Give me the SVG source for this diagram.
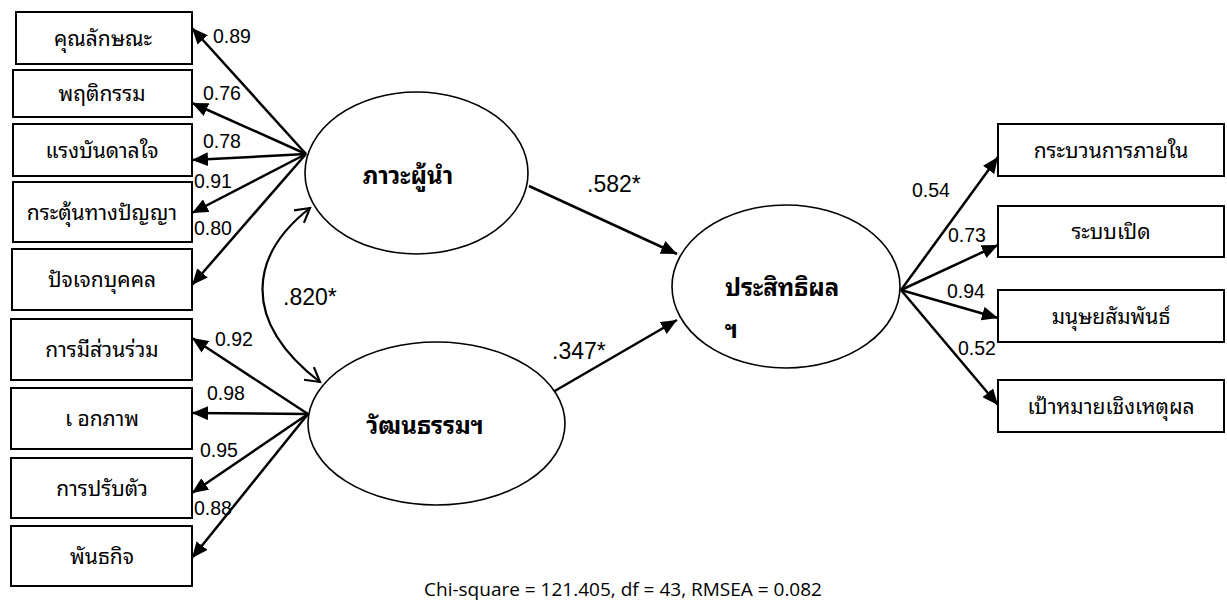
<svg xmlns="http://www.w3.org/2000/svg" width="1227" height="605" viewBox="0 0 1227 605">
<style>
.box{fill:#fff;stroke:#000;stroke-width:2}
.ell{fill:#fff;stroke:#000;stroke-width:1.6}
.bt{font-family:"Noto Sans Thai Looped","Noto Sans","Noto Sans Thai","DejaVu Sans",sans-serif;font-size:21px;text-anchor:middle;fill:#000}
.et{font-family:"Noto Sans Thai Looped","Noto Sans","Noto Sans Thai","DejaVu Sans",sans-serif;font-size:24px;font-weight:bold;fill:#000}
.num{font-family:"Liberation Sans",Arial,sans-serif;font-size:19.5px;fill:#000}
.big{font-family:"Liberation Sans",Arial,sans-serif;font-size:23px;fill:#000}
.ar{stroke:#000;stroke-width:2.5;fill:none;marker-end:url(#ah)}
.cv{stroke:#000;stroke-width:2.2;fill:none;marker-start:url(#oa);marker-end:url(#oa)}
</style>
<defs>
<marker id="ah" markerUnits="userSpaceOnUse" markerWidth="18" markerHeight="14" refX="16" refY="7" orient="auto" viewBox="0 0 18 14">
<path d="M0,0 L16,7 L0,14 z" fill="#000"/>
</marker>
<marker id="oa" markerUnits="userSpaceOnUse" markerWidth="20" markerHeight="20" refX="16" refY="10" orient="auto-start-reverse" viewBox="0 0 20 20">
<path d="M2,2 L16,10 L2,18" fill="none" stroke="#000" stroke-width="2.2"/>
</marker>
</defs>
<rect width="1227" height="605" fill="#fff"/>
<g id="connectors">
<line class="ar" x1="306" y1="154" x2="192" y2="28"/>
<line class="ar" x1="306" y1="154" x2="192" y2="103"/>
<line class="ar" x1="306" y1="154" x2="192" y2="160"/>
<line class="ar" x1="306" y1="154" x2="192" y2="213"/>
<line class="ar" x1="306" y1="154" x2="192" y2="285"/>
<line class="ar" x1="308" y1="414" x2="192" y2="338"/>
<line class="ar" x1="308" y1="414" x2="192" y2="413"/>
<line class="ar" x1="308" y1="414" x2="192" y2="493"/>
<line class="ar" x1="308" y1="414" x2="192" y2="558"/>
<line class="ar" x1="901" y1="290" x2="998" y2="157"/>
<line class="ar" x1="901" y1="290" x2="998" y2="245"/>
<line class="ar" x1="901" y1="290" x2="998" y2="318"/>
<line class="ar" x1="901" y1="290" x2="998" y2="405"/>
<line class="ar" x1="529" y1="186" x2="677" y2="254"/>
<line class="ar" x1="553" y1="392" x2="677" y2="320"/>
<path class="cv" d="M310,208 C250,255 240,320 320,382"/>
<text class="num" x="213" y="43">0.89</text>
<text class="num" x="203" y="100">0.76</text>
<text class="num" x="203" y="148">0.78</text>
<text class="num" x="194" y="188">0.91</text>
<text class="num" x="194" y="235">0.80</text>
<text class="num" x="215" y="346">0.92</text>
<text class="num" x="207" y="400">0.98</text>
<text class="num" x="200" y="457">0.95</text>
<text class="num" x="194" y="515">0.88</text>
<text class="num" x="912" y="197">0.54</text>
<text class="num" x="948" y="242">0.73</text>
<text class="num" x="947" y="298">0.94</text>
<text class="num" x="958" y="355">0.52</text>
<text class="big" x="587" y="192">.582*</text>
<text class="big" x="552" y="359">.347*</text>
<text class="big" x="283" y="305">.820*</text>
</g>
<g id="n1"><rect class="box" x="16" y="12" width="176" height="52"/><text class="bt" x="103" y="46">คุณลักษณะ</text></g>
<g id="n2"><rect class="box" x="13" y="70" width="179" height="47"/><text class="bt" x="102" y="101">พฤติกรรม</text></g>
<g id="n3"><rect class="box" x="13" y="124" width="179" height="52"/><text class="bt" x="102" y="158">แรงบันดาลใจ</text></g>
<g id="n4"><rect class="box" x="13" y="182" width="179" height="60"/><text class="bt" x="102" y="220">กระตุ้นทางปัญญา</text></g>
<g id="n5"><rect class="box" x="12" y="249" width="180" height="61"/><text class="bt" x="102" y="287">ปัจเจกบุคคล</text></g>
<g id="n6"><rect class="box" x="11" y="319" width="181" height="61"/><text class="bt" x="102" y="357">การมีส่วนร่วม</text></g>
<g id="n7"><rect class="box" x="11" y="388" width="181" height="61"/><text class="bt" x="102" y="426">เ อกภาพ</text></g>
<g id="n8"><rect class="box" x="11" y="458" width="181" height="60"/><text class="bt" x="102" y="496">การปรับตัว</text></g>
<g id="n9"><rect class="box" x="11" y="526" width="181" height="60"/><text class="bt" x="102" y="564">พันธกิจ</text></g>
<g id="r1"><rect class="box" x="998" y="124" width="226" height="52"/><text class="bt" x="1111" y="158">กระบวนการภายใน</text></g>
<g id="r2"><rect class="box" x="998" y="206" width="226" height="51"/><text class="bt" x="1111" y="239">ระบบเปิด</text></g>
<g id="r3"><rect class="box" x="998" y="290" width="226" height="52"/><text class="bt" x="1111" y="324">มนุษยสัมพันธ์</text></g>
<g id="r4"><rect class="box" x="998" y="380" width="226" height="52"/><text class="bt" x="1111" y="414">เป้าหมายเชิงเหตุผล</text></g>
<g id="e1"><ellipse class="ell" cx="416.5" cy="173" rx="111.5" ry="81"/><text class="et" x="408" y="184" text-anchor="middle">ภาวะผู้นำ</text></g>
<g id="e2"><ellipse class="ell" cx="436.5" cy="423.5" rx="128.5" ry="81.5"/><text class="et" x="425" y="434" text-anchor="middle">วัฒนธรรมฯ</text></g>
<g id="e3"><ellipse class="ell" cx="786" cy="286.5" rx="114" ry="81.5"/><text class="et" x="725" y="296">ประสิทธิผล</text><text class="et" x="725" y="338">ฯ</text></g>
<text x="623" y="596" text-anchor="middle" font-family="'Open Sans','Noto Sans',sans-serif" font-size="19" fill="#000">Chi-square = 121.405, df = 43, RMSEA = 0.082</text>
</svg>
